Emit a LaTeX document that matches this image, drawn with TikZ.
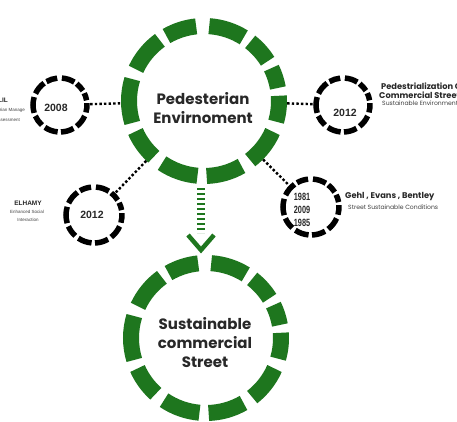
\documentclass[tikz,border=0pt]{standalone}
\usepackage{fontspec}
\setmainfont{Liberation Sans}
\newfontfamily\headfont{Poppins}
\usetikzlibrary{calc}
\definecolor{ringgreen}{RGB}{30,118,30}
\definecolor{inkgray}{RGB}{40,40,40}

% ring made of separate thick arc segments: centre, mid radius, width, colour
\newcommand\ringofdashes[4]{%
  \foreach \a/\b in {96/120,126/155,163/197,204/228,236/265,272/300,308/336,344/364,10/26,32/52,58/86}
    \draw[#4, line width=#3] ($(#1)+(\a:#2)$) arc[start angle=\a, end angle=\b, radius=#2];
}

\tikzset{
  hub/.style={circle, inner sep=0pt, minimum size=166pt},
  stamp/.style={circle, inner sep=0pt, minimum size=60pt},
  link/.style={draw=black, line width=2.4pt, dash pattern=on 2.4pt off 2.2pt},
  shaft/.style={draw=ringgreen, line width=8pt, dash pattern=on 2.2pt off 2.8pt},
  chevron/.style={draw=ringgreen, line width=4.5pt, miter limit=4},
  headtext/.style={font=\headfont\bfseries\fontsize{15}{19}\selectfont, align=center, text=inkgray, inner sep=0pt},
  year/.style={font=\bfseries\fontsize{10.5}{12}\selectfont, text=inkgray, inner sep=0pt},
  yearstack/.style={font=\bfseries\fontsize{10.5}{13}\selectfont, align=center, xscale=0.7, text=inkgray, inner sep=0pt},
  lbold/.style={font=\bfseries\fontsize{6.5}{7}\selectfont, text=inkgray, inner sep=0pt},
  lsmall/.style={font=\fontsize{4.5}{5}\selectfont, text=black!75, inner sep=0pt},
  nbold/.style={font=\headfont\bfseries\fontsize{8.3}{9}\selectfont, text=inkgray, inner sep=0pt},
  nsmall/.style={font=\headfont\fontsize{6.1}{7}\selectfont, text=black!75, inner sep=0pt},
}

\begin{document}
\begin{tikzpicture}[x=1pt, y=1pt]
  \fill[white] (0,0) rectangle (457,421);
  \useasboundingbox (0,0) rectangle (457,421);

  % circle anchors
  \node[hub] (M) at (204,320) {};
  \node[hub] (S) at (206,83) {};
  \node[stamp] (A) at (60,316) {};
  \node[stamp] (B) at (343,316) {};
  \node[stamp, minimum size=62pt] (C) at (94,206) {};
  \node[stamp, minimum size=62pt] (D) at (311,214) {};

  % rings
  \ringofdashes{M}{75}{16pt}{ringgreen}
  \ringofdashes{S}{75}{16pt}{ringgreen}
  \ringofdashes{A}{27}{5.5pt}{black}
  \ringofdashes{B}{27}{5.5pt}{black}
  \ringofdashes{C}{28}{5.5pt}{black}
  \ringofdashes{D}{28}{5.5pt}{black}

  % dotted links
  \draw[link] (A) -- (M);
  \draw[link] (M) -- (B);
  \draw[link] (M) -- (C);
  \draw[link] (M) -- (D);

  % downward arrow
  \coordinate (shaftTop) at (201,233);
  \coordinate (shaftEnd) at (201,188);
  \coordinate (tip) at (201,171);
  \coordinate (armL) at (188,186);
  \coordinate (armR) at (214,186);
  \draw[shaft] (shaftTop) -- (shaftEnd);
  \draw[chevron] (armL) -- (tip) -- (armR);

  % main texts
  \node[headtext] (Mlabel) at (203,313) {Pedesterian\\Envirnoment};
  \node[headtext] (Slabel) at (205,78) {Sustainable\\commercial\\Street};

  % years
  \node[year] (Ay) at (56,313) {2008};
  \node[year] (By) at (345,308) {2012};
  \node[year] (Cy) at (92,206) {2012};
  \node[yearstack] (Dy) at (302,211) {1981\\2009\\1985};

  % side notes
  \node[lbold, anchor=east] (An1) at (8,321) {KHALIL};
  \node[lsmall, anchor=east] (An2) at (25,311) {Pedestrian Manage};
  \node[lsmall, anchor=east] (An3) at (20,301) {Assessment};

  \node[nbold, anchor=west] (Bn1) at (381,335) {Pedestrialization Of};
  \node[nbold, anchor=west] (Bn2) at (379,326) {Commercial Street};
  \node[nsmall, anchor=west] (Bn3) at (382,318) {Sustainable Environment};

  \node[lbold] (Cn1) at (28,218) {ELHAMY};
  \node[lsmall] (Cn2) at (27,209) {Enhanced Social};
  \node[lsmall] (Cn3) at (28,201) {Interaction};

  \node[nbold, anchor=west] (Dn1) at (345,224) {Gehl , Evans , Bentley};
  \node[nsmall, anchor=west] (Dn2) at (348,214) {Street Sustainable Conditions};
\end{tikzpicture}
\end{document}
